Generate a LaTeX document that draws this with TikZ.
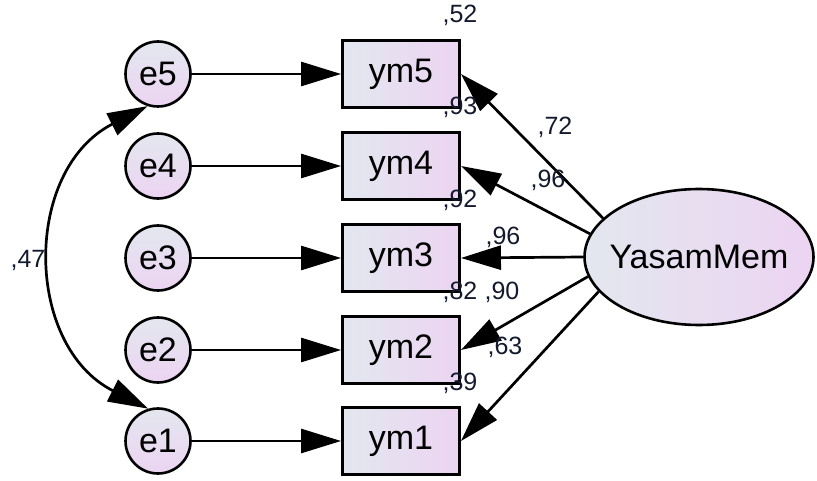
\documentclass[tikz,border=0pt]{standalone}
\usepackage{fontspec}
\setmainfont{Liberation Sans}
\usetikzlibrary{arrows.meta,shapes.geometric}
\definecolor{gl}{HTML}{E3E7EF}
\definecolor{gr}{HTML}{ECD4F2}
\definecolor{lab}{HTML}{141A2E}
\begin{document}
\begin{tikzpicture}[x=1pt,y=1pt,
  obs/.style={rectangle, draw, line width=2.9pt, minimum width=117pt, minimum height=67pt, inner sep=0pt,
    left color=gl, right color=gr, font=\fontsize{34}{38}\selectfont},
  err/.style={circle, draw, line width=2.6pt, minimum size=65pt, inner sep=0pt,
    top color=gl, bottom color=gr, font=\fontsize{34}{38}\selectfont},
  lat/.style={ellipse, draw, line width=2.6pt, minimum width=229pt, minimum height=136pt, inner sep=0pt,
    left color=gl, right color=gr},
  lattext/.style={inner sep=0pt, font=\fontsize{34}{38}\selectfont},
  pth/.style={line width=2.7pt, -{Triangle[length=40pt,width=24pt]}},
  covp/.style={line width=2.7pt, {Triangle[length=40pt,width=24pt]}-{Triangle[length=40pt,width=24pt]}},
  lbl/.style={font=\fontsize{25}{28}\selectfont, text=lab, inner sep=0pt}
]
\useasboundingbox (0,0) rectangle (817,-481);

% error terms
\node[err] (e5) at (158,-74) {e5};
\node[err] (e4) at (158,-166) {e4};
\node[err] (e3) at (158,-258) {e3};
\node[err] (e2) at (158,-350) {e2};
\node[err] (e1) at (158,-441) {e1};

% observed variables
\node[obs] (ym5) at (401,-74) {ym5};
\node[obs] (ym4) at (401,-166) {ym4};
\node[obs] (ym3) at (401,-258) {ym3};
\node[obs] (ym2) at (401,-350) {ym2};
\node[obs] (ym1) at (401,-441) {ym1};

% latent
\node[lat] (Y) at (699,-257) {};
\node[lattext] (Ytext) at (Y.center) {YasamMem};

% error paths
\draw[pth] (e5) -- (ym5);
\draw[pth] (e4) -- (ym4);
\draw[pth] (e3) -- (ym3);
\draw[pth] (e2) -- (ym2);
\draw[pth] (e1) -- (ym1);

% loadings
\draw[pth] (Y.158) -- (ym5.east);
\draw[pth] (Y.168) -- (ym4.east);
\draw[pth] (Y.180) -- (ym3.east);
\draw[pth] (Y.190.6) -- (ym2.east);
\draw[pth] (Y.199.3) -- (ym1.east);

% covariance
\draw[covp] (e5.252.6) to[out=207, in=153, looseness=1.18] (e1.107.4);

% labels
\node[lbl] (l52) at (460,-15) {,52};
\node[lbl] (l93) at (460,-107) {,93};
\node[lbl] (l92) at (460,-200) {,92};
\node[lbl] (l82) at (460,-292) {,82};
\node[lbl] (l90) at (502,-292) {,90};
\node[lbl] (l39) at (460,-383) {,39};
\node[lbl] (l72) at (555,-127) {,72};
\node[lbl] (l96a) at (548,-180) {,96};
\node[lbl] (l96b) at (503,-237) {,96};
\node[lbl] (l63) at (505,-347) {,63};
\node[lbl] (l47) at (28,-260) {,47};
\end{tikzpicture}
\end{document}
